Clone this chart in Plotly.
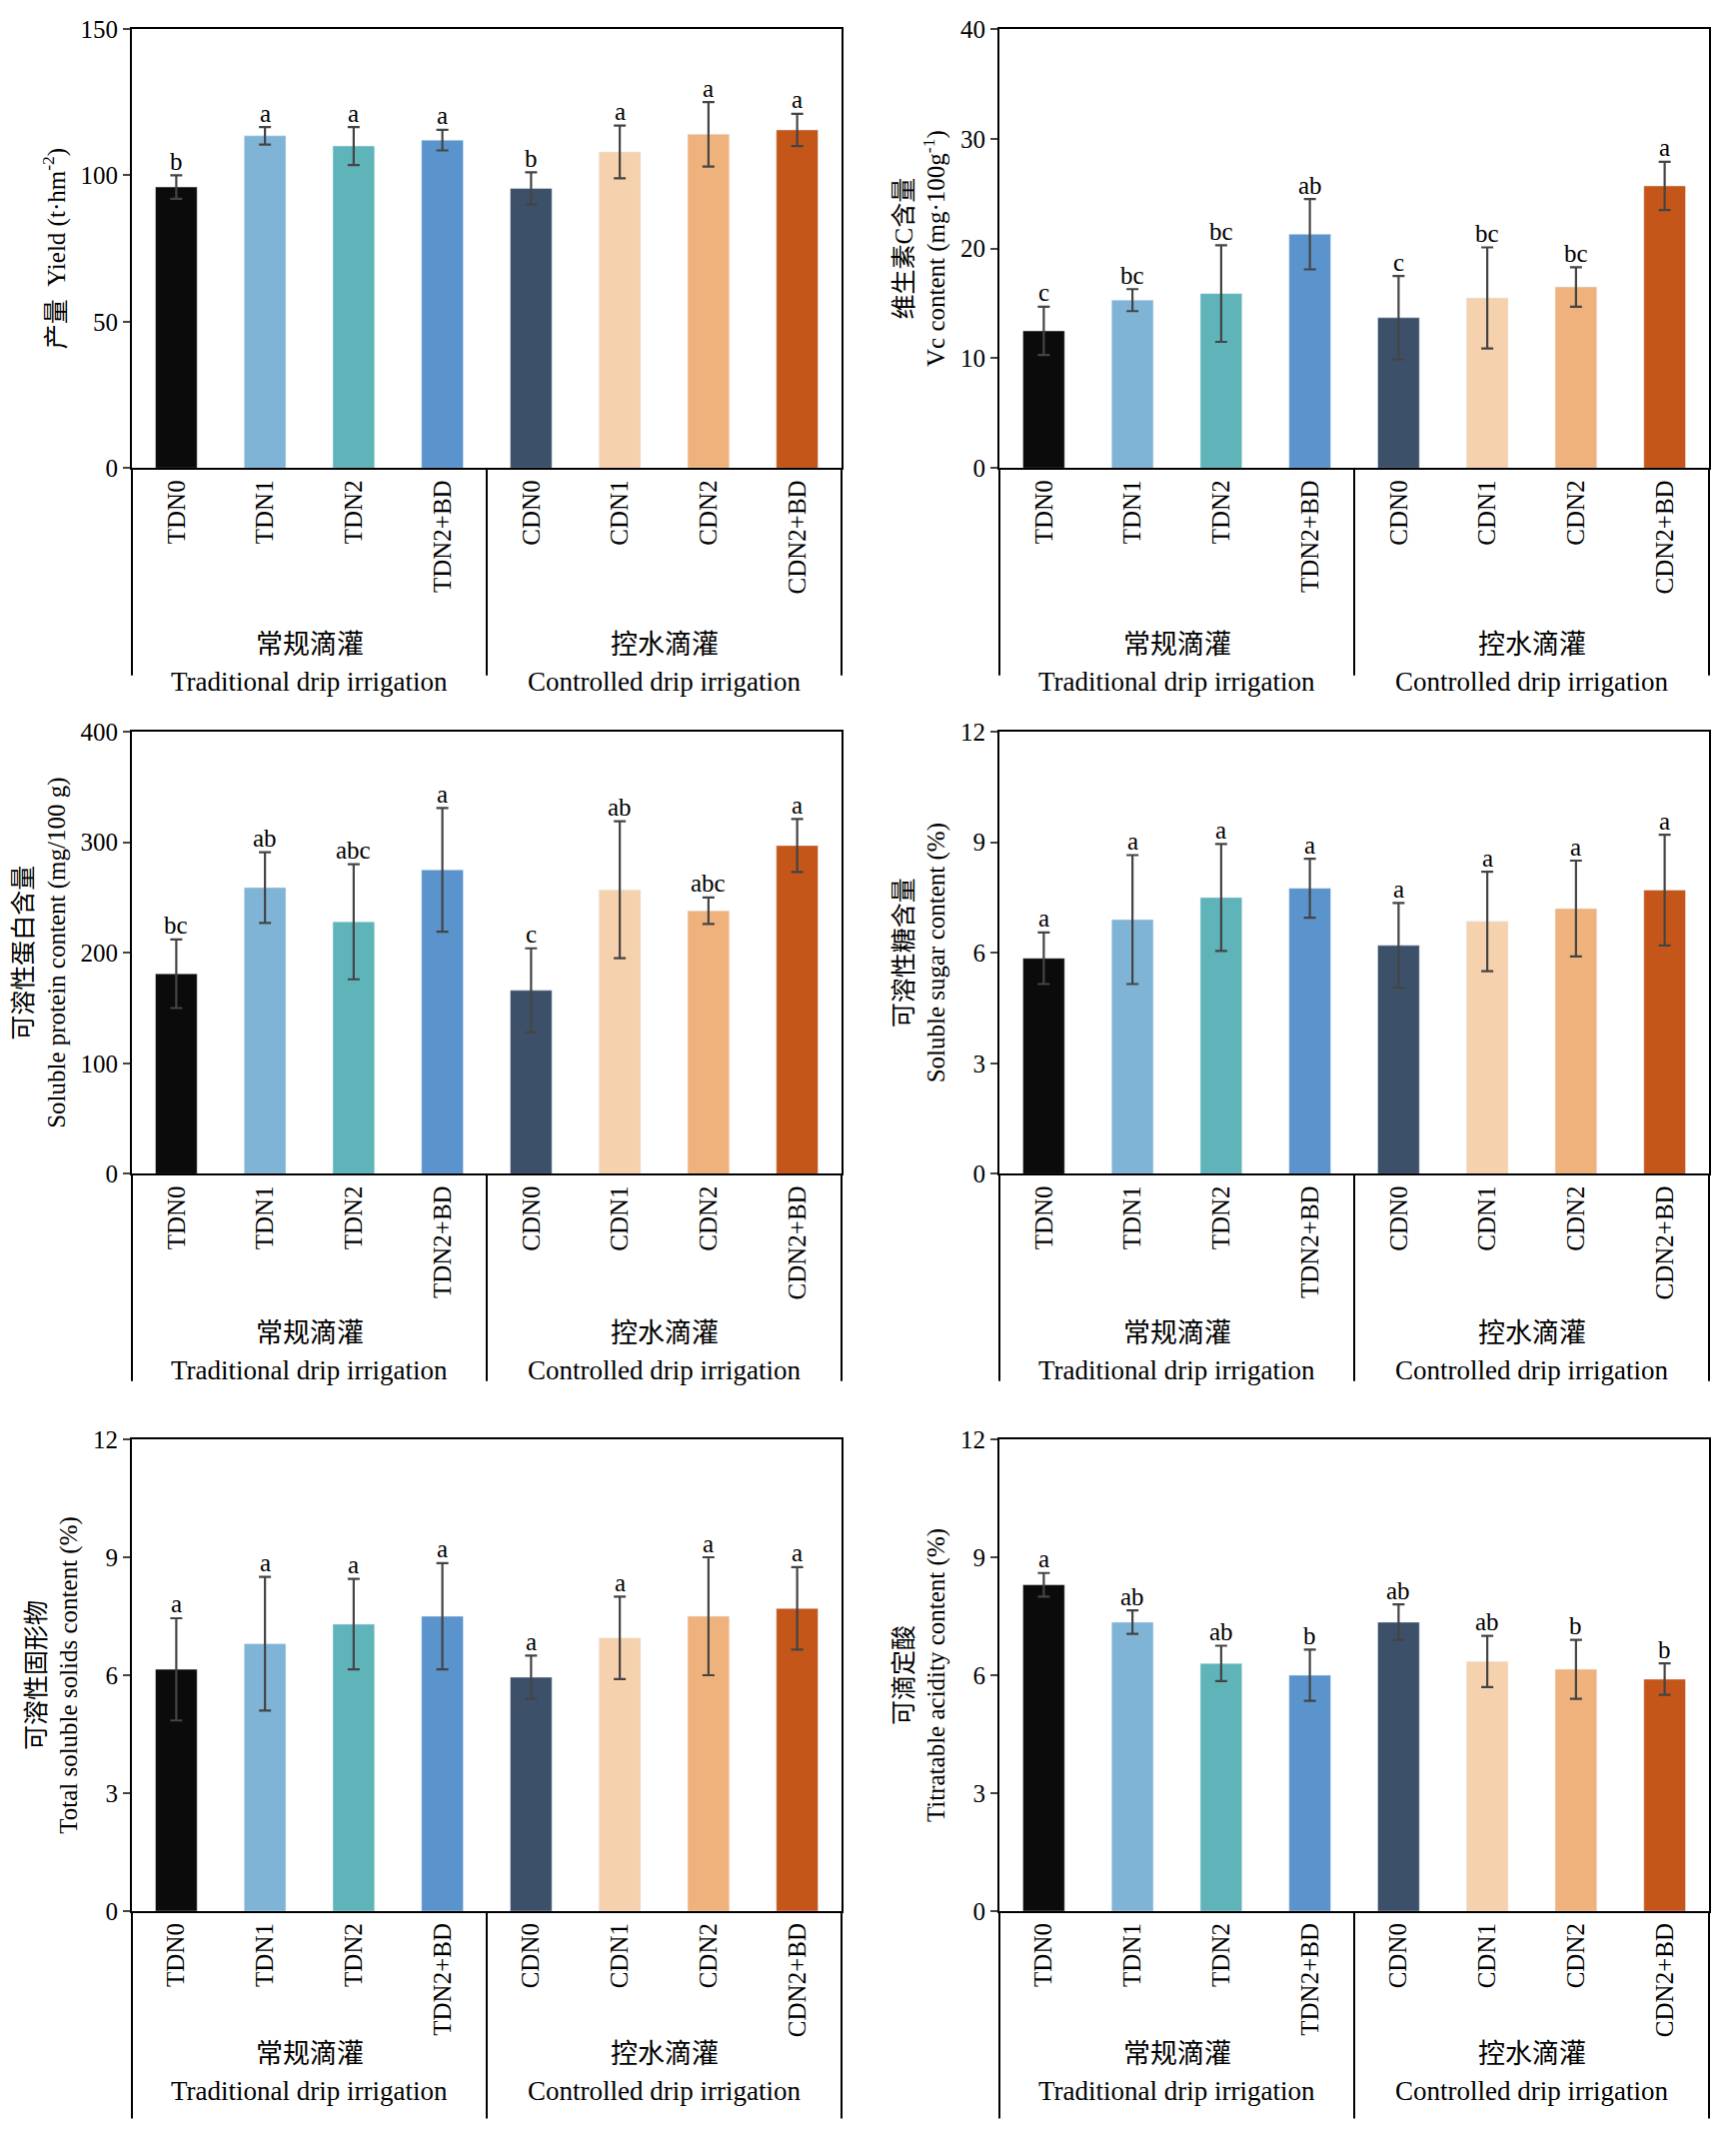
import plotly.graph_objects as go

categories = ["TDN0", "TDN1", "TDN2", "TDN2+BD", "CDN0", "CDN1", "CDN2", "CDN2+BD"]
colors = ["#0b0b0b", "#80b4d6", "#5fb4ba", "#5b93cc", "#3d5069", "#f6d1ae", "#efb27c", "#c4561a"]

yield_mean = [96, 113.5, 110, 112, 95.5, 108, 114, 115.5]
yield_err = [4, 3, 6.5, 3.5, 5.5, 9, 11, 5.5]
yield_sig = ["b", "a", "a", "a", "b", "a", "a", "a"]

vc_mean = [12.5, 15.3, 15.9, 21.3, 13.7, 15.5, 16.5, 25.7]
vc_err = [2.2, 1.0, 4.4, 3.2, 3.8, 4.6, 1.8, 2.2]
vc_sig = ["c", "bc", "bc", "ab", "c", "bc", "bc", "a"]

protein_mean = [181, 259, 228, 275, 166, 257, 238, 297]
protein_err = [31, 32, 52, 56, 38, 62, 12, 24]
protein_sig = ["bc", "ab", "abc", "a", "c", "ab", "abc", "a"]

sugar_mean = [5.85, 6.9, 7.5, 7.75, 6.2, 6.85, 7.2, 7.7]
sugar_err = [0.7, 1.75, 1.45, 0.8, 1.15, 1.35, 1.3, 1.5]
sugar_sig = ["a"] * 8

tss_mean = [6.15, 6.8, 7.3, 7.5, 5.95, 6.95, 7.5, 7.7]
tss_err = [1.3, 1.7, 1.15, 1.35, 0.55, 1.05, 1.5, 1.05]
tss_sig = ["a"] * 8

acid_mean = [8.3, 7.35, 6.3, 6.0, 7.35, 6.35, 6.15, 5.9]
acid_err = [0.3, 0.3, 0.45, 0.65, 0.45, 0.65, 0.75, 0.4]
acid_sig = ["a", "ab", "ab", "b", "ab", "ab", "b", "b"]

panels = [
    (yield_mean, yield_err, yield_sig, [0, 150], 50, "产量  Yield (t·hm<sup>-2</sup>)"),
    (vc_mean, vc_err, vc_sig, [0, 40], 10, "维生素C含量<br>Vc content (mg·100g<sup>-1</sup>)"),
    (protein_mean, protein_err, protein_sig, [0, 400], 100, "可溶性蛋白含量<br>Soluble protein content (mg/100 g)"),
    (sugar_mean, sugar_err, sugar_sig, [0, 12], 3, "可溶性糖含量<br>Soluble sugar content (%)"),
    (tss_mean, tss_err, tss_sig, [0, 12], 3, "可溶性固形物<br>Total soluble solids content (%)"),
    (acid_mean, acid_err, acid_sig, [0, 12], 3, "可滴定酸<br>Titratable acidity content (%)"),
]

W, H = 1731, 2157
cols_px = [(124, 834), (992, 1702)]
rows_px = [(8, 453), (720, 1168), (1437, 1915)]
FONT = "Liberation Serif, Noto Sans CJK SC"

fig = go.Figure()
layout = {}
for i, (mean, err, sig, rng, dt, title) in enumerate(panels):
    r, c = divmod(i, 2)
    n = "" if i == 0 else str(i + 1)
    xa, ya = "x" + n, "y" + n
    top, bot = rows_px[r]
    left, right = cols_px[c]
    fig.add_trace(go.Bar(
        x=categories, y=mean, marker_color=colors, width=0.47,
        error_y=dict(type="data", array=err, color="#444444", thickness=2.2, width=6),
        xaxis=xa, yaxis=ya, showlegend=False,
    ))
    layout["xaxis" + n] = dict(domain=[left / W, right / W], anchor=ya, showline=True, linecolor="black",
                               linewidth=2, mirror=True, tickangle=-90, ticks="",
                               tickfont=dict(size=25, color="black", family=FONT))
    layout["yaxis" + n] = dict(domain=[1 - bot / H, 1 - top / H], anchor=xa, range=rng, dtick=dt,
                               showline=True, linecolor="black", linewidth=2, mirror=True,
                               ticks="outside", ticklen=7, tickwidth=2, showgrid=False,
                               zeroline=False, tickfont=dict(size=25, color="black", family=FONT),
                               title=dict(text=title, standoff=8,
                                          font=dict(size=25, color="black", family=FONT)))
    for cat, m, e, s in zip(categories, mean, err, sig):
        fig.add_annotation(x=cat, y=m + e, xref=xa, yref=ya, text=s, showarrow=False,
                           yshift=14, font=dict(size=25, color="black", family=FONT))
    for xv in [0, 0.5, 1]:
        fig.add_shape(type="line", xref=xa + " domain", yref=ya + " domain", x0=xv, x1=xv,
                      y0=0, y1=-210 / (bot - top), line=dict(color="black", width=2))
    ypos = 1 - bot / H
    for frac, zh, en in [(0.25, "常规滴灌", "Traditional drip irrigation"),
                         (0.75, "控水滴灌", "Controlled drip irrigation")]:
        xp = (left + frac * (right - left)) / W
        fig.add_annotation(x=xp, y=ypos, xref="paper", yref="paper", text=zh, xanchor="center",
                           showarrow=False, yshift=-160, font=dict(size=27, color="black", family=FONT))
        fig.add_annotation(x=xp, y=ypos, xref="paper", yref="paper", text=en, xanchor="center",
                           showarrow=False, yshift=-197, font=dict(size=27, color="black", family=FONT))

fig.update_layout(width=W, height=H, margin=dict(l=0, r=0, t=0, b=0),
                  plot_bgcolor="white", paper_bgcolor="white", bargap=0.5, **layout)
fig.write_html("out.html")
